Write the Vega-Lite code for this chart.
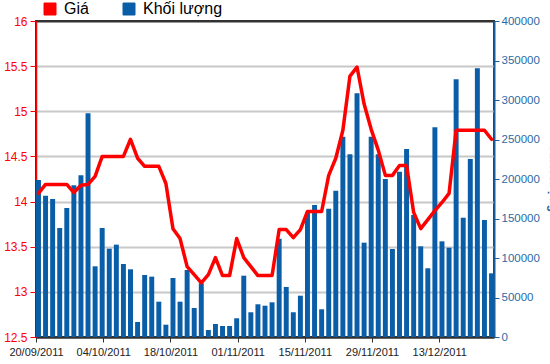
{
  "$schema": "https://vega.github.io/schema/vega-lite/v6.json",
  "width": 458,
  "height": 316,
  "autosize": {"type": "none"},
  "padding": {"left": 36, "top": 21, "right": 56, "bottom": 27},
  "background": "#ffffff",
  "config": {
    "view": {"stroke": "#333333", "strokeWidth": 2},
    "axis": {"labelFont": "Liberation Sans, sans-serif", "titleFont": "Liberation Sans, sans-serif"}
  },
  "datasets": {
    "series": [
      {"i": 0, "vol": 198700, "price": 14.09},
      {"i": 1, "vol": 178900, "price": 14.19},
      {"i": 2, "vol": 174700, "price": 14.19},
      {"i": 3, "vol": 138000, "price": 14.19},
      {"i": 4, "vol": 163300, "price": 14.19},
      {"i": 5, "vol": 192000, "price": 14.10},
      {"i": 6, "vol": 204700, "price": 14.18},
      {"i": 7, "vol": 283100, "price": 14.19},
      {"i": 8, "vol": 89500, "price": 14.28},
      {"i": 9, "vol": 138000, "price": 14.50},
      {"i": 10, "vol": 111800, "price": 14.50},
      {"i": 11, "vol": 116900, "price": 14.50},
      {"i": 12, "vol": 92400, "price": 14.50},
      {"i": 13, "vol": 85700, "price": 14.69},
      {"i": 14, "vol": 19000, "price": 14.48},
      {"i": 15, "vol": 78500, "price": 14.39},
      {"i": 16, "vol": 76400, "price": 14.39},
      {"i": 17, "vol": 44700, "price": 14.39},
      {"i": 18, "vol": 15600, "price": 14.20},
      {"i": 19, "vol": 74700, "price": 13.70},
      {"i": 20, "vol": 44700, "price": 13.59},
      {"i": 21, "vol": 84800, "price": 13.28},
      {"i": 22, "vol": 36700, "price": 13.19},
      {"i": 23, "vol": 68000, "price": 13.10},
      {"i": 24, "vol": 8900, "price": 13.19},
      {"i": 25, "vol": 16500, "price": 13.38},
      {"i": 26, "vol": 13900, "price": 13.18},
      {"i": 27, "vol": 13900, "price": 13.18},
      {"i": 28, "vol": 23700, "price": 13.59},
      {"i": 29, "vol": 77600, "price": 13.38},
      {"i": 30, "vol": 31300, "price": 13.28},
      {"i": 31, "vol": 41400, "price": 13.18},
      {"i": 32, "vol": 39600, "price": 13.18},
      {"i": 33, "vol": 43900, "price": 13.18},
      {"i": 34, "vol": 124400, "price": 13.69},
      {"i": 35, "vol": 63300, "price": 13.69},
      {"i": 36, "vol": 31300, "price": 13.60},
      {"i": 37, "vol": 52300, "price": 13.69},
      {"i": 38, "vol": 157800, "price": 13.89},
      {"i": 39, "vol": 167100, "price": 13.89},
      {"i": 40, "vol": 35100, "price": 13.89},
      {"i": 41, "vol": 162400, "price": 14.29},
      {"i": 42, "vol": 185200, "price": 14.48},
      {"i": 43, "vol": 253500, "price": 14.79},
      {"i": 44, "vol": 231200, "price": 15.39},
      {"i": 45, "vol": 308400, "price": 15.49},
      {"i": 46, "vol": 119400, "price": 15.08},
      {"i": 47, "vol": 253500, "price": 14.80},
      {"i": 48, "vol": 231200, "price": 14.57},
      {"i": 49, "vol": 200000, "price": 14.29},
      {"i": 50, "vol": 111400, "price": 14.29},
      {"i": 51, "vol": 209200, "price": 14.40},
      {"i": 52, "vol": 238000, "price": 14.40},
      {"i": 53, "vol": 154400, "price": 13.88},
      {"i": 54, "vol": 114800, "price": 13.70},
      {"i": 55, "vol": 87000, "price": 13.80},
      {"i": 56, "vol": 265400, "price": 13.90},
      {"i": 57, "vol": 121100, "price": 13.99},
      {"i": 58, "vol": 113000, "price": 14.09},
      {"i": 59, "vol": 326200, "price": 14.79},
      {"i": 60, "vol": 151000, "price": 14.79},
      {"i": 61, "vol": 225300, "price": 14.79},
      {"i": 62, "vol": 340100, "price": 14.79},
      {"i": 63, "vol": 148100, "price": 14.79},
      {"i": 64, "vol": 80600, "price": 14.69}
    ],
    "ticks": [
      {"date": "2011-09-20"},
      {"date": "2011-10-04"},
      {"date": "2011-10-18"},
      {"date": "2011-11-01"},
      {"date": "2011-11-15"},
      {"date": "2011-11-29"},
      {"date": "2011-12-13"}
    ]
  },
  "layer": [
    {
      "data": {"name": "series"},
      "layer": [
        {
          "mark": {"type": "bar"},
          "encoding": {
            "x": {"field": "i", "type": "ordinal", "scale": {"paddingInner": 0.3, "paddingOuter": 0}, "axis": null},
            "y": {
              "field": "vol", "type": "quantitative",
              "scale": {"domain": [0, 400000], "nice": false, "zero": true},
              "axis": {
                "orient": "right", "values": [0, 50000, 100000, 150000, 200000, 250000, 300000, 350000, 400000],
                "format": "d", "grid": false,
                "labelFontSize": 11.5, "labelColor": "#2a6aa5",
                "domainColor": "#1e5d9b", "domainWidth": 2, "tickColor": "#1e5d9b", "tickSize": 5, "labelPadding": 2,
                "title": "Khối lượng", "titleColor": "#1e5d9b", "titleFontSize": 12, "titlePadding": 7
              }
            },
            "color": {
              "datum": "Khối lượng",
              "scale": {"domain": ["Giá", "Khối lượng"], "range": ["#ff0000", "#0a5ea8"]},
              "legend": {
                "orient": "none", "legendX": 6, "legendY": -20, "direction": "horizontal", "title": null,
                "symbolType": "square", "symbolSize": 144, "labelFont": "Liberation Sans, sans-serif",
                "labelFontSize": 16, "labelColor": "#000000", "labelOffset": 6, "columnPadding": 32, "padding": 0,
                "encode": {"symbols": {"update": {"fill": {"scale": "color", "field": "value"}, "stroke": {"value": "#000000"}, "strokeWidth": {"value": 1}, "opacity": {"value": 1}}}}
              }
            }
          }
        },
        {
          "mark": {"type": "line", "strokeWidth": 3.5, "strokeJoin": "round", "strokeCap": "round"},
          "encoding": {
            "x": {"field": "i", "type": "ordinal", "axis": null},
            "y": {
              "field": "price", "type": "quantitative",
              "scale": {"domain": [12.5, 16], "nice": false, "zero": false},
              "axis": {
                "orient": "left", "values": [12.5, 13, 13.5, 14, 14.5, 15, 15.5, 16], "format": "~g",
                "labelFontSize": 12, "labelColor": "#ff0000", "domainColor": "#ff0000", "domainWidth": 1.5,
                "tickColor": "#ff0000", "tickSize": 6, "labelPadding": 3, "title": null,
                "grid": true, "gridWidth": 2,
                "gridColor": {"condition": {"test": "datum.value == 16 || datum.value == 12.5", "value": "#333333"}, "value": "#c8c8c8"}
              }
            },
            "color": {"datum": "Giá"}
          }
        }
      ],
      "resolve": {"scale": {"y": "independent"}}
    },
    {
      "data": {"name": "ticks"},
      "mark": {"type": "rule", "opacity": 0},
      "encoding": {
        "x": {
          "field": "date", "type": "temporal",
          "scale": {"type": "utc", "domain": [{"year": 2011, "month": 9, "date": 20, "utc": true}, {"year": 2011, "month": 12, "date": 24, "hours": 10, "utc": true}]},
          "axis": {
            "orient": "bottom", "format": "%d/%m/%Y", "grid": false, "title": null,
            "values": [
              {"year": 2011, "month": 9, "date": 20, "utc": true},
              {"year": 2011, "month": 10, "date": 4, "utc": true},
              {"year": 2011, "month": 10, "date": 18, "utc": true},
              {"year": 2011, "month": 11, "date": 1, "utc": true},
              {"year": 2011, "month": 11, "date": 15, "utc": true},
              {"year": 2011, "month": 11, "date": 29, "utc": true},
              {"year": 2011, "month": 12, "date": 13, "utc": true}
            ],
            "labelFontSize": 11, "labelColor": "#222222", "domainColor": "#333333", "domainWidth": 2,
            "tickColor": "#333333", "tickSize": 5, "labelPadding": 4, "labelOverlap": false, "labelFlush": false
          }
        }
      }
    }
  ],
  "resolve": {"scale": {"x": "independent"}}
}
